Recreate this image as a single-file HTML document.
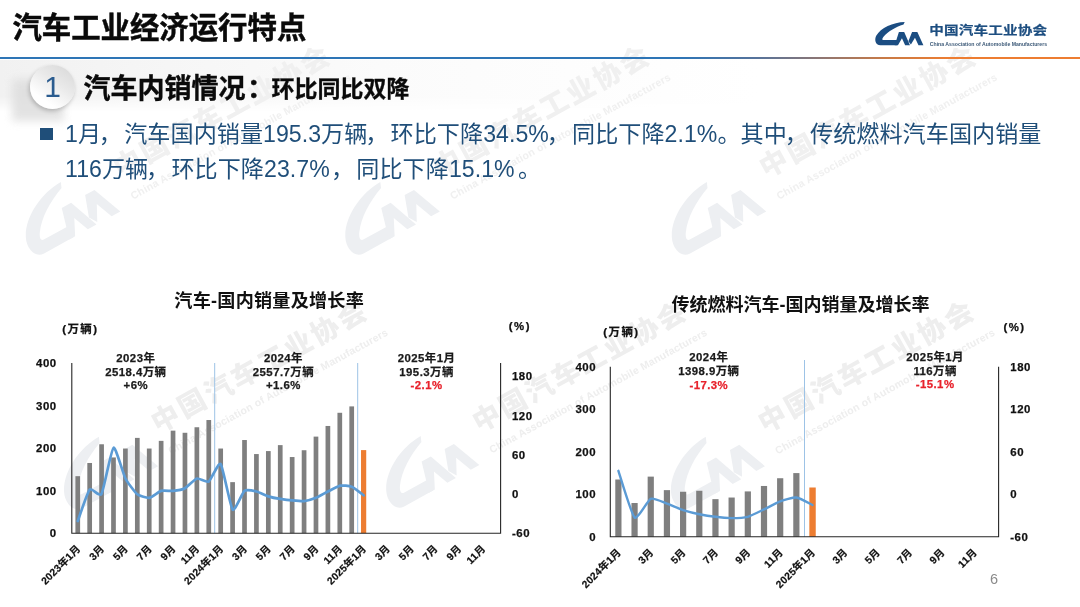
<!DOCTYPE html>
<html lang="zh-CN">
<head>
<meta charset="utf-8">
<title>汽车工业经济运行特点</title>
<style>
html,body{margin:0;padding:0;background:#fff;}
body{width:1080px;height:607px;overflow:hidden;position:relative;font-family:"Liberation Sans", "Noto Sans CJK SC", sans-serif;}
#slide{position:absolute;left:0;top:0;width:1080px;height:607px;background:#fff;overflow:hidden;}
svg{position:absolute;left:0;top:0;}
svg text{font-family:"Liberation Sans", "Noto Sans CJK SC", sans-serif;}
.h1{position:absolute;left:12.4px;top:8.3px;font-size:29.4px;line-height:40px;font-weight:700;color:#0a0a0a;white-space:nowrap;letter-spacing:0;-webkit-text-stroke:.45px #0a0a0a;}
.rule{position:absolute;left:0;top:56.8px;width:1080px;height:2.7px;background:linear-gradient(90deg,#2e75b6 0%,#2e75b6 63%,#56739b 70%,#8e7673 76%,#c97a45 82%,#ed7d31 88%,#ed7d31 100%);}
.band{position:absolute;left:0;top:60px;width:760px;height:52px;background:linear-gradient(90deg,#f1f1f1 0%,#f6f6f6 22%,#fbfbfb 50%,#ffffff 100%);-webkit-mask-image:linear-gradient(180deg,#000 0%,#000 70%,transparent 100%);mask-image:linear-gradient(180deg,#000 0%,#000 70%,transparent 100%);}
.shadow{position:absolute;left:12px;top:79px;width:52px;height:42px;background:#dedede;filter:blur(4.5px);opacity:.85;}
.circle{position:absolute;left:30px;top:65px;width:45px;height:44px;border-radius:50%;background:linear-gradient(35deg,#ffffff 25%,#e9e9e9 60%,#d6d6d6 100%);box-shadow:-1px 2px 4px rgba(0,0,0,.22);}
.num{position:absolute;left:30px;top:65px;width:45px;height:44px;line-height:43px;text-align:center;font-size:30px;color:#2b5c8f;}
.h2{position:absolute;left:83.5px;top:69.8px;line-height:38px;font-weight:700;color:#0a0a0a;white-space:nowrap;font-size:27px;-webkit-text-stroke:.4px #0a0a0a;}
.h2 i{font-style:normal;margin-left:1.5px;}
.h2 span{font-size:23px;position:absolute;left:188px;top:0.6px;-webkit-text-stroke:.3px #0a0a0a;}
.bullet{position:absolute;left:40.3px;top:127.5px;width:13px;height:12.8px;background:#1f4e79;}
.body{position:absolute;left:65px;top:117.2px;width:1010px;font-size:23.1px;line-height:34.6px;letter-spacing:.05px;color:#1f4e79;white-space:nowrap;}
.body .sp{letter-spacing:-3px;}
.body i{font-style:normal;position:relative;left:-2.2px;}
.pg{position:absolute;left:984px;top:569px;width:20px;text-align:center;font-size:14.5px;line-height:20px;color:#8a8a8a;}
.logo-cn{position:absolute;left:929.2px;top:20.6px;font-size:14.6px;line-height:18px;font-weight:700;color:#1d4e80;white-space:nowrap;letter-spacing:0.15px;-webkit-text-stroke:.25px #1d4e80;transform:scaleY(.85);transform-origin:0 88%;}
.logo-en{position:absolute;left:929.8px;top:40.8px;font-size:5.15px;line-height:7px;font-weight:700;color:#3d5a78;white-space:nowrap;}
.ax{font-size:11.4px;font-weight:700;fill:#111;stroke:#111;stroke-width:.25px;letter-spacing:.5px;}
.xl{font-size:10.3px;font-weight:700;fill:#111;stroke:#111;stroke-width:.2px;letter-spacing:.2px;}
.an{font-size:11.4px;font-weight:700;letter-spacing:.45px;stroke-width:.25px;}
.ct{font-weight:700;fill:#111;}
</style>
</head>
<body>
<div id="slide">
<div class="band"></div>
<svg width="1080" height="607" viewBox="0 0 1080 607">
<g transform="translate(31.7,253.0) rotate(-28.8) scale(1.050)"><g transform="translate(0.00,-46.00) scale(0.10164,0.11689)" fill="#edeff2" ><path d="M 560,0 C 340,3 100,115 22,260 C -20,335 0,445 100,445 L 412,445 L 440,345 L 165,345 C 125,345 130,315 162,275 C 240,180 380,100 538,47 Z"/><path d="M 370,445 L 450,190 L 550,190 L 660,445 L 568,445 L 508,310 L 432,445 Z"/><path d="M 630,365 L 700,190 L 800,190 L 915,445 L 822,445 L 755,300 L 678,430 Z"/></g><text x="108" y="-21.5" font-size="26.5" font-weight="900" fill="#f0f0f0" letter-spacing="2.56">中国汽车工业协会</text><text x="109" y="2" font-size="10" font-weight="700" fill="#f0f0f0" textLength="238" lengthAdjust="spacing">China Association of Automobile Manufacturers</text></g>
<g transform="translate(351.2,253.0) rotate(-28.8) scale(1.050)"><g transform="translate(0.00,-46.00) scale(0.10164,0.11689)" fill="#edeff2" ><path d="M 560,0 C 340,3 100,115 22,260 C -20,335 0,445 100,445 L 412,445 L 440,345 L 165,345 C 125,345 130,315 162,275 C 240,180 380,100 538,47 Z"/><path d="M 370,445 L 450,190 L 550,190 L 660,445 L 568,445 L 508,310 L 432,445 Z"/><path d="M 630,365 L 700,190 L 800,190 L 915,445 L 822,445 L 755,300 L 678,430 Z"/></g><text x="108" y="-21.5" font-size="26.5" font-weight="900" fill="#f0f0f0" letter-spacing="2.56">中国汽车工业协会</text><text x="109" y="2" font-size="10" font-weight="700" fill="#f0f0f0" textLength="238" lengthAdjust="spacing">China Association of Automobile Manufacturers</text></g>
<g transform="translate(677.7,253.0) rotate(-28.8) scale(1.050)"><g transform="translate(0.00,-46.00) scale(0.10164,0.11689)" fill="#edeff2" ><path d="M 560,0 C 340,3 100,115 22,260 C -20,335 0,445 100,445 L 412,445 L 440,345 L 165,345 C 125,345 130,315 162,275 C 240,180 380,100 538,47 Z"/><path d="M 370,445 L 450,190 L 550,190 L 660,445 L 568,445 L 508,310 L 432,445 Z"/><path d="M 630,365 L 700,190 L 800,190 L 915,445 L 822,445 L 755,300 L 678,430 Z"/></g><text x="108" y="-21.5" font-size="26.5" font-weight="900" fill="#f0f0f0" letter-spacing="2.56">中国汽车工业协会</text><text x="109" y="2" font-size="10" font-weight="700" fill="#f0f0f0" textLength="238" lengthAdjust="spacing">China Association of Automobile Manufacturers</text></g>
<g transform="translate(69.9,507.5) rotate(-28.8) scale(1.045)"><g transform="translate(0.00,-46.00) scale(0.10164,0.11689)" fill="#edeff2" ><path d="M 560,0 C 340,3 100,115 22,260 C -20,335 0,445 100,445 L 412,445 L 440,345 L 165,345 C 125,345 130,315 162,275 C 240,180 380,100 538,47 Z"/><path d="M 370,445 L 450,190 L 550,190 L 660,445 L 568,445 L 508,310 L 432,445 Z"/><path d="M 630,365 L 700,190 L 800,190 L 915,445 L 822,445 L 755,300 L 678,430 Z"/></g><text x="108" y="-21.5" font-size="26.5" font-weight="900" fill="#eeeeee" letter-spacing="2.56">中国汽车工业协会</text><text x="109" y="2" font-size="10" font-weight="700" fill="#eeeeee" textLength="238" lengthAdjust="spacing">China Association of Automobile Manufacturers</text></g>
<g transform="translate(392.0,506.0) rotate(-28.8) scale(1.035)"><g transform="translate(0.00,-46.00) scale(0.10164,0.11689)" fill="#edeff2" ><path d="M 560,0 C 340,3 100,115 22,260 C -20,335 0,445 100,445 L 412,445 L 440,345 L 165,345 C 125,345 130,315 162,275 C 240,180 380,100 538,47 Z"/><path d="M 370,445 L 450,190 L 550,190 L 660,445 L 568,445 L 508,310 L 432,445 Z"/><path d="M 630,365 L 700,190 L 800,190 L 915,445 L 822,445 L 755,300 L 678,430 Z"/></g><text x="108" y="-21.5" font-size="26.5" font-weight="900" fill="#eeeeee" letter-spacing="2.56">中国汽车工业协会</text><text x="109" y="2" font-size="10" font-weight="700" fill="#eeeeee" textLength="238" lengthAdjust="spacing">China Association of Automobile Manufacturers</text></g>
<g transform="translate(676.8,507.5) rotate(-28.8) scale(1.045)"><g transform="translate(0.00,-46.00) scale(0.10164,0.11689)" fill="#edeff2" ><path d="M 560,0 C 340,3 100,115 22,260 C -20,335 0,445 100,445 L 412,445 L 440,345 L 165,345 C 125,345 130,315 162,275 C 240,180 380,100 538,47 Z"/><path d="M 370,445 L 450,190 L 550,190 L 660,445 L 568,445 L 508,310 L 432,445 Z"/><path d="M 630,365 L 700,190 L 800,190 L 915,445 L 822,445 L 755,300 L 678,430 Z"/></g><text x="108" y="-21.5" font-size="26.5" font-weight="900" fill="#eeeeee" letter-spacing="2.56">中国汽车工业协会</text><text x="109" y="2" font-size="10" font-weight="700" fill="#eeeeee" textLength="238" lengthAdjust="spacing">China Association of Automobile Manufacturers</text></g>
</svg>
<div class="h1">汽车工业经济运行特点</div>
<div class="rule"></div>
<div class="shadow"></div>
<div class="circle"></div>
<div class="num">1</div>
<div class="h2">汽车内销情况<i>：</i><span>环比同比双降</span></div>
<div class="bullet"></div>
<div class="body">1月<i>，</i>汽车国内销量195.3万辆<i>，</i>环比下降34.5%<i>，</i>同比下降2.1%。其中<i>，</i>传统燃料汽车国内销量<br>116万辆<i>，</i>环比下降23.7%<span class="sp"> </span><i>，</i>同比下降15.1%<span class="sp"> </span>。</div>
<svg width="1080" height="607" viewBox="0 0 1080 607">
<g transform="translate(875.20,21.90) scale(0.05268,0.05268)" fill="#1b4d82" ><path d="M 560,0 C 340,3 100,115 22,260 C -20,335 0,445 100,445 L 412,445 L 440,345 L 165,345 C 125,345 130,315 162,275 C 240,180 380,100 538,47 Z"/><path d="M 370,445 L 450,190 L 550,190 L 660,445 L 568,445 L 508,310 L 432,445 Z"/><path d="M 630,365 L 700,190 L 800,190 L 915,445 L 822,445 L 755,300 L 678,430 Z"/></g>
<text x="269.2" y="306.6" text-anchor="middle" class="ct" font-size="18.1" letter-spacing="0.25">汽车-国内销量及增长率</text>
<text x="800.5" y="311" text-anchor="middle" class="ct" font-size="18">传统燃料汽车-国内销量及增长率</text>
<text x="62.2" y="332.6" class="ax" style="letter-spacing:1.5px">(万辆)</text>
<text x="508.8" y="329.8" class="ax" style="letter-spacing:1.5px">(%)</text>
<text x="603.3" y="336.4" class="ax" style="letter-spacing:1.5px">(万辆)</text>
<text x="1003.4" y="331" class="ax" style="letter-spacing:1.5px">(%)</text>
<line x1="214.7" y1="363.0" x2="214.7" y2="533.2" stroke="#9dc3e6" stroke-width="1"/>
<line x1="357.7" y1="363.0" x2="357.7" y2="533.2" stroke="#9dc3e6" stroke-width="1"/>
<rect x="75.41" y="476.18" width="4.70" height="57.02" fill="#7f7f7f"/>
<rect x="87.32" y="462.99" width="4.70" height="70.21" fill="#7f7f7f"/>
<rect x="99.23" y="444.27" width="4.70" height="88.93" fill="#7f7f7f"/>
<rect x="111.14" y="457.46" width="4.70" height="75.74" fill="#7f7f7f"/>
<rect x="123.05" y="448.53" width="4.70" height="84.67" fill="#7f7f7f"/>
<rect x="134.96" y="437.89" width="4.70" height="95.31" fill="#7f7f7f"/>
<rect x="146.87" y="448.53" width="4.70" height="84.67" fill="#7f7f7f"/>
<rect x="158.78" y="440.87" width="4.70" height="92.33" fill="#7f7f7f"/>
<rect x="170.69" y="430.65" width="4.70" height="102.55" fill="#7f7f7f"/>
<rect x="182.61" y="432.78" width="4.70" height="100.42" fill="#7f7f7f"/>
<rect x="194.52" y="427.25" width="4.70" height="105.95" fill="#7f7f7f"/>
<rect x="206.43" y="420.02" width="4.70" height="113.18" fill="#7f7f7f"/>
<rect x="218.34" y="448.53" width="4.70" height="84.67" fill="#7f7f7f"/>
<rect x="230.25" y="482.14" width="4.70" height="51.06" fill="#7f7f7f"/>
<rect x="242.16" y="440.02" width="4.70" height="93.18" fill="#7f7f7f"/>
<rect x="254.07" y="454.06" width="4.70" height="79.14" fill="#7f7f7f"/>
<rect x="265.98" y="451.08" width="4.70" height="82.12" fill="#7f7f7f"/>
<rect x="277.89" y="445.12" width="4.70" height="88.08" fill="#7f7f7f"/>
<rect x="289.81" y="457.04" width="4.70" height="76.16" fill="#7f7f7f"/>
<rect x="301.72" y="450.23" width="4.70" height="82.97" fill="#7f7f7f"/>
<rect x="313.63" y="436.61" width="4.70" height="96.59" fill="#7f7f7f"/>
<rect x="325.54" y="425.97" width="4.70" height="107.23" fill="#7f7f7f"/>
<rect x="337.45" y="412.78" width="4.70" height="120.42" fill="#7f7f7f"/>
<rect x="349.36" y="406.40" width="4.70" height="126.80" fill="#7f7f7f"/>
<rect x="361.02" y="450.10" width="5.20" height="83.10" fill="#ed7d31"/>
<path d="M77.8,521.0 C78.8,518.2 87.5,492.2 89.7,489.7 C91.8,487.3 99.4,497.5 101.6,493.7 C103.7,489.9 111.3,449.1 113.5,447.8 C115.6,446.4 123.3,474.3 125.4,478.5 C127.5,482.6 135.2,492.5 137.3,494.3 C139.5,496.0 147.1,498.1 149.2,497.8 C151.4,497.5 159.0,491.5 161.1,490.9 C163.3,490.3 170.9,491.1 173.0,490.9 C175.2,490.7 182.8,489.5 185.0,488.3 C187.1,487.2 194.7,479.1 196.9,478.5 C199.0,477.8 206.6,482.8 208.8,481.5 C210.9,480.2 218.5,461.6 220.7,464.1 C222.8,466.7 230.5,507.2 232.6,509.6 C234.7,512.0 242.4,492.5 244.5,490.9 C246.7,489.3 254.3,491.0 256.4,491.5 C258.6,492.0 266.2,495.7 268.3,496.4 C270.5,497.1 278.1,498.6 280.2,498.9 C282.4,499.3 290.0,500.3 292.2,500.4 C294.3,500.6 301.9,501.3 304.1,501.1 C306.2,500.9 313.8,498.7 316.0,497.8 C318.1,497.0 325.7,492.6 327.9,491.5 C330.0,490.5 337.7,486.2 339.8,485.7 C341.9,485.3 349.6,485.8 351.7,486.7 C353.9,487.6 362.6,494.5 363.6,495.3" fill="none" stroke="#5b9bd5" stroke-width="2.7" stroke-linecap="round" stroke-linejoin="round"/>
<path d="M71.8,363.0 V533.2 H500.6 V363.0" fill="none" stroke="#262626" stroke-width="1.1"/>
<text x="56.6" y="537.3" text-anchor="end" class="ax">0</text>
<text x="56.6" y="494.8" text-anchor="end" class="ax">100</text>
<text x="56.6" y="452.2" text-anchor="end" class="ax">200</text>
<text x="56.6" y="409.7" text-anchor="end" class="ax">300</text>
<text x="56.6" y="367.1" text-anchor="end" class="ax">400</text>
<text x="512.0" y="537.3" class="ax">-60</text>
<text x="512.0" y="498.0" class="ax">0</text>
<text x="512.0" y="458.8" class="ax">60</text>
<text x="512.0" y="419.5" class="ax">120</text>
<text x="512.0" y="380.3" class="ax">180</text>
<text transform="translate(81.2,549.4) rotate(-45)" text-anchor="end" class="xl">2023年1月</text>
<text transform="translate(105.0,549.4) rotate(-45)" text-anchor="end" class="xl">3月</text>
<text transform="translate(128.8,549.4) rotate(-45)" text-anchor="end" class="xl">5月</text>
<text transform="translate(152.6,549.4) rotate(-45)" text-anchor="end" class="xl">7月</text>
<text transform="translate(176.4,549.4) rotate(-45)" text-anchor="end" class="xl">9月</text>
<text transform="translate(200.3,549.4) rotate(-45)" text-anchor="end" class="xl">11月</text>
<text transform="translate(224.1,549.4) rotate(-45)" text-anchor="end" class="xl">2024年1月</text>
<text transform="translate(247.9,549.4) rotate(-45)" text-anchor="end" class="xl">3月</text>
<text transform="translate(271.7,549.4) rotate(-45)" text-anchor="end" class="xl">5月</text>
<text transform="translate(295.6,549.4) rotate(-45)" text-anchor="end" class="xl">7月</text>
<text transform="translate(319.4,549.4) rotate(-45)" text-anchor="end" class="xl">9月</text>
<text transform="translate(343.2,549.4) rotate(-45)" text-anchor="end" class="xl">11月</text>
<text transform="translate(367.0,549.4) rotate(-45)" text-anchor="end" class="xl">2025年1月</text>
<text transform="translate(390.8,549.4) rotate(-45)" text-anchor="end" class="xl">3月</text>
<text transform="translate(414.7,549.4) rotate(-45)" text-anchor="end" class="xl">5月</text>
<text transform="translate(438.5,549.4) rotate(-45)" text-anchor="end" class="xl">7月</text>
<text transform="translate(462.3,549.4) rotate(-45)" text-anchor="end" class="xl">9月</text>
<text transform="translate(486.1,549.4) rotate(-45)" text-anchor="end" class="xl">11月</text>
<line x1="804.5" y1="360.0" x2="804.5" y2="536.8" stroke="#9dc3e6" stroke-width="1"/>
<rect x="615.29" y="479.51" width="6.20" height="57.29" fill="#7f7f7f"/>
<rect x="631.47" y="503.01" width="6.20" height="33.79" fill="#7f7f7f"/>
<rect x="647.65" y="476.62" width="6.20" height="60.18" fill="#7f7f7f"/>
<rect x="663.83" y="490.13" width="6.20" height="46.66" fill="#7f7f7f"/>
<rect x="680.01" y="491.75" width="6.20" height="45.05" fill="#7f7f7f"/>
<rect x="696.19" y="490.77" width="6.20" height="46.03" fill="#7f7f7f"/>
<rect x="712.36" y="499.14" width="6.20" height="37.65" fill="#7f7f7f"/>
<rect x="728.54" y="497.53" width="6.20" height="39.27" fill="#7f7f7f"/>
<rect x="744.72" y="491.41" width="6.20" height="45.39" fill="#7f7f7f"/>
<rect x="760.90" y="485.97" width="6.20" height="50.83" fill="#7f7f7f"/>
<rect x="777.08" y="478.23" width="6.20" height="58.56" fill="#7f7f7f"/>
<rect x="793.26" y="473.09" width="6.20" height="63.71" fill="#7f7f7f"/>
<rect x="809.34" y="487.50" width="6.40" height="49.30" fill="#ed7d31"/>
<path d="M618.4,470.8 C619.8,475.0 631.7,514.9 634.6,517.5 C637.5,520.0 647.8,500.1 650.7,498.8 C653.7,497.6 664.0,502.6 666.9,503.6 C669.8,504.7 680.2,509.1 683.1,510.1 C686.0,511.0 696.4,513.7 699.3,514.3 C702.2,514.9 712.6,516.5 715.5,516.8 C718.4,517.2 728.7,518.1 731.6,518.1 C734.6,518.1 744.9,517.6 747.8,516.8 C750.7,516.0 761.1,510.8 764.0,509.4 C766.9,508.0 777.3,502.5 780.2,501.4 C783.1,500.3 793.4,497.2 796.4,497.5 C799.3,497.8 811.1,504.3 812.5,505.0" fill="none" stroke="#5b9bd5" stroke-width="2.4" stroke-linecap="round" stroke-linejoin="round"/>
<path d="M610.3,366.8 V536.8 H998.6 V366.8" fill="none" stroke="#262626" stroke-width="1.1"/>
<text x="596.0" y="540.9" text-anchor="end" class="ax">0</text>
<text x="596.0" y="498.4" text-anchor="end" class="ax">100</text>
<text x="596.0" y="455.9" text-anchor="end" class="ax">200</text>
<text x="596.0" y="413.4" text-anchor="end" class="ax">300</text>
<text x="596.0" y="370.9" text-anchor="end" class="ax">400</text>
<text x="1010.3" y="540.9" class="ax">-60</text>
<text x="1010.3" y="498.4" class="ax">0</text>
<text x="1010.3" y="455.9" class="ax">60</text>
<text x="1010.3" y="413.4" class="ax">120</text>
<text x="1010.3" y="370.9" class="ax">180</text>
<text transform="translate(621.8,553.0) rotate(-45)" text-anchor="end" class="xl">2024年1月</text>
<text transform="translate(654.1,553.0) rotate(-45)" text-anchor="end" class="xl">3月</text>
<text transform="translate(686.5,553.0) rotate(-45)" text-anchor="end" class="xl">5月</text>
<text transform="translate(718.9,553.0) rotate(-45)" text-anchor="end" class="xl">7月</text>
<text transform="translate(751.2,553.0) rotate(-45)" text-anchor="end" class="xl">9月</text>
<text transform="translate(783.6,553.0) rotate(-45)" text-anchor="end" class="xl">11月</text>
<text transform="translate(815.9,553.0) rotate(-45)" text-anchor="end" class="xl">2025年1月</text>
<text transform="translate(848.3,553.0) rotate(-45)" text-anchor="end" class="xl">3月</text>
<text transform="translate(880.7,553.0) rotate(-45)" text-anchor="end" class="xl">5月</text>
<text transform="translate(913.0,553.0) rotate(-45)" text-anchor="end" class="xl">7月</text>
<text transform="translate(945.4,553.0) rotate(-45)" text-anchor="end" class="xl">9月</text>
<text transform="translate(977.7,553.0) rotate(-45)" text-anchor="end" class="xl">11月</text>
<text x="135.8" y="361.7" text-anchor="middle" class="an" fill="#1a1a1a" stroke="#1a1a1a">2023年</text>
<text x="135.8" y="375.5" text-anchor="middle" class="an" fill="#1a1a1a" stroke="#1a1a1a">2518.4万辆</text>
<text x="135.8" y="388.7" text-anchor="middle" class="an" fill="#1a1a1a" stroke="#1a1a1a">+6%</text>
<text x="283.4" y="361.7" text-anchor="middle" class="an" fill="#1a1a1a" stroke="#1a1a1a">2024年</text>
<text x="283.4" y="375.5" text-anchor="middle" class="an" fill="#1a1a1a" stroke="#1a1a1a">2557.7万辆</text>
<text x="283.4" y="388.7" text-anchor="middle" class="an" fill="#1a1a1a" stroke="#1a1a1a">+1.6%</text>
<text x="426.5" y="361.7" text-anchor="middle" class="an" fill="#1a1a1a" stroke="#1a1a1a">2025年1月</text>
<text x="426.5" y="375.5" text-anchor="middle" class="an" fill="#1a1a1a" stroke="#1a1a1a">195.3万辆</text>
<text x="426.5" y="388.7" text-anchor="middle" class="an" fill="#e8222c" stroke="#e8222c">-2.1%</text>
<text x="708.8" y="361.3" text-anchor="middle" class="an" fill="#1a1a1a" stroke="#1a1a1a">2024年</text>
<text x="708.8" y="375.3" text-anchor="middle" class="an" fill="#1a1a1a" stroke="#1a1a1a">1398.9万辆</text>
<text x="708.8" y="388.7" text-anchor="middle" class="an" fill="#e8222c" stroke="#e8222c">-17.3%</text>
<text x="935.1" y="361.3" text-anchor="middle" class="an" fill="#1a1a1a" stroke="#1a1a1a">2025年1月</text>
<text x="935.1" y="374.5" text-anchor="middle" class="an" fill="#1a1a1a" stroke="#1a1a1a">116万辆</text>
<text x="935.1" y="387.7" text-anchor="middle" class="an" fill="#e8222c" stroke="#e8222c">-15.1%</text>
</svg>
<div class="logo-cn">中国汽车工业协会</div>
<div class="logo-en">China Association of Automobile Manufacturers</div>
<div class="pg">6</div>
</div>
</body>
</html>
